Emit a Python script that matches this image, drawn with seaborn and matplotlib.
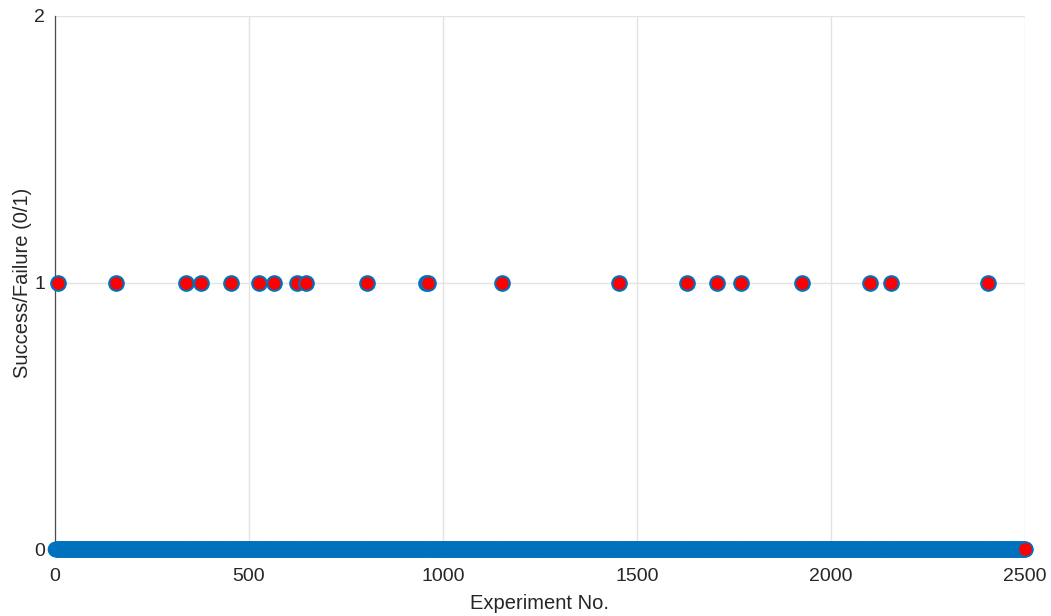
import numpy as np
import pandas as pd
import matplotlib
matplotlib.use("Agg")
import matplotlib.pyplot as plt
import seaborn as sns

# ---- data ----
n_experiments = 2500
success_experiments = [8, 157, 338, 376, 454, 526, 564, 624, 647, 804, 956, 962,
                       1152, 1454, 1629, 1706, 1768, 1925, 2100, 2155, 2405]
last_experiment = [2500]
last_outcome = [0]
x_ticks = [0, 500, 1000, 1500, 2000, 2500]
y_ticks = [0, 1, 2]

experiments = np.arange(1, n_experiments + 1)
outcome = np.zeros(n_experiments, dtype=int)
outcome[np.array(success_experiments) - 1] = 1
df = pd.DataFrame({"Experiment": experiments, "Outcome": outcome})
fail_df = df[df["Outcome"] == 0]
succ_df = df[df["Outcome"] == 1]
last_df = pd.DataFrame({"Experiment": last_experiment, "Outcome": last_outcome})

sns.set_theme(style="white")
plt.rcParams["font.family"] = ["Liberation Sans", "DejaVu Sans"]

fig = plt.figure(figsize=(10.51, 6.16), dpi=100)
ax = fig.add_axes([55 / 1051, 1 - 549 / 616, 970 / 1051, 533 / 616])

blue = "#0072BD"
sns.scatterplot(data=fail_df, x="Experiment", y="Outcome", ax=ax, s=110,
                color=blue, edgecolor=blue, linewidth=0.8, clip_on=False, zorder=3)
sns.scatterplot(data=succ_df, x="Experiment", y="Outcome", ax=ax, s=110,
                color="#FF0000", edgecolor=blue, linewidth=1.5, clip_on=False, zorder=4)
sns.scatterplot(data=last_df, x="Experiment", y="Outcome", ax=ax, s=110,
                color="#FF0000", edgecolor=blue, linewidth=1.2, clip_on=False, zorder=5)

ax.set_xlim(0, 2500)
ax.set_ylim(0, 2)
ax.set_xticks(x_ticks)
ax.set_yticks(y_ticks)
ax.grid(True, color="#e3e3e3", linewidth=1.0)
ax.set_axisbelow(True)
for side in ["top", "right"]:
    ax.spines[side].set_visible(False)
for side in ["left", "bottom"]:
    ax.spines[side].set_color("#4d4d4d")
    ax.spines[side].set_linewidth(0.9)
ax.tick_params(axis="both", direction="in", length=5, width=0.8, color="#4d4d4d",
               labelsize=14, labelcolor="#262626")
ax.tick_params(axis="x", pad=14)
ax.tick_params(axis="y", pad=7)
ax.set_xlabel("Experiment No.", fontsize=14.5, color="#262626", labelpad=6)
ax.set_ylabel("Success/Failure (0/1)", fontsize=14.5, color="#262626", labelpad=2)

fig.savefig("out.png", dpi=100)
